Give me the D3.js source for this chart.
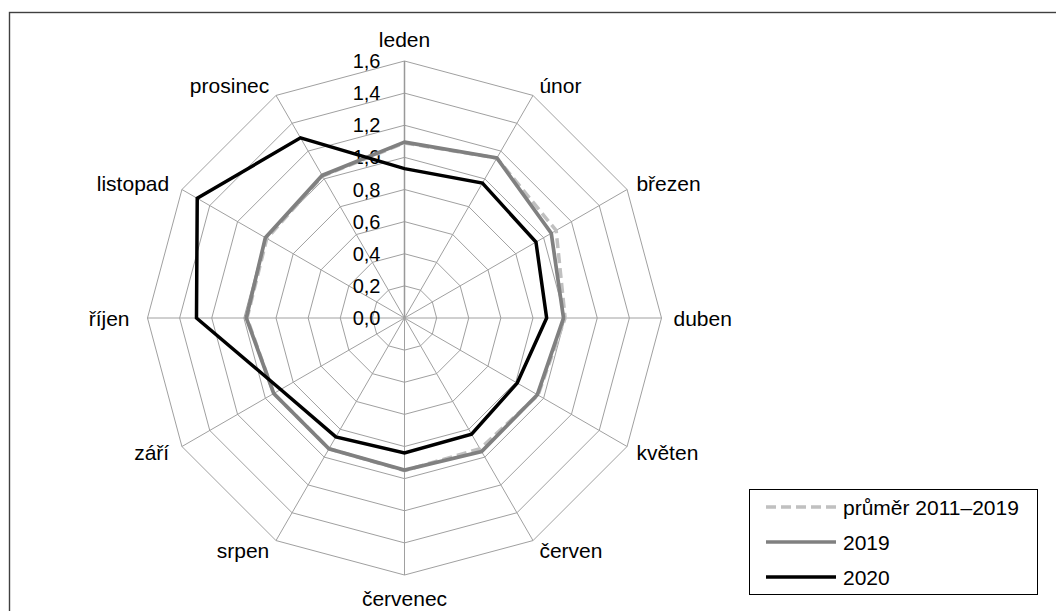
<!DOCTYPE html>
<html><head><meta charset="utf-8">
<script src="https://cdn.jsdelivr.net/npm/d3@7"></script>
<style>body{margin:0;background:#fff}svg{display:block;font-family:"Liberation Sans",Arial,sans-serif}</style>
</head><body>
<svg id="c" width="1056" height="611"></svg>
<script>
const months = ["leden","únor","březen","duben","květen","červen","červenec","srpen","září","říjen","listopad","prosinec"];
const avg2011_2019 = [1.09,1.15,1.09,1.00,0.96,0.94,0.95,0.94,0.94,0.98,0.99,1.02];
const y2019 = [1.095,1.15,1.055,0.99,0.955,0.96,0.947,0.94,0.94,0.985,1.0,1.025];
const y2020 = [0.93,0.97,0.945,0.885,0.81,0.835,0.84,0.855,0.89,1.295,1.49,1.295];
const tickValues = [0,0.2,0.4,0.6,0.8,1.0,1.2,1.4,1.6];
const seriesNames = ["průměr 2011–2019","2019","2020"];

const svg = d3.select("#c");
const cx = 404.5, cy = 318;
const r = d3.scaleLinear().domain([0,1.6]).range([0,257]);
const angle = i => i * 2*Math.PI/months.length;
const pt = (i,v) => [cx + r(v)*Math.sin(angle(i)), cy - r(v)*Math.cos(angle(i))];
const fmt = v => d3.format(".1f")(v).replace(".", ",");

// frame
svg.append("rect").attr("x",9.5).attr("y",12.5).attr("width",1100).attr("height",700)
  .attr("fill","none").attr("stroke","#404040").attr("stroke-width",1.4);

const grid = svg.append("g");
tickValues.slice(1).forEach(t => {
  grid.append("path")
    .attr("d", d3.line()(months.map((m,i)=>pt(i,t))) + "Z")
    .attr("fill","none").attr("stroke","#a0a0a0").attr("stroke-width",1);
});
months.forEach((m,i) => {
  const e = pt(i,1.6);
  grid.append("line").attr("x1",cx).attr("y1",cy).attr("x2",e[0]).attr("y2",e[1])
    .attr("stroke", i===0 ? "#999" : "#a0a0a0").attr("stroke-width", i===0 ? 1.5 : 1);
});

// tick labels
svg.append("g").selectAll("text").data(tickValues).join("text")
  .attr("x", cx - 24).attr("y", d => cy - r(d))
  .attr("text-anchor","end").attr("dominant-baseline","central")
  .attr("font-size",20).attr("fill","#000").text(fmt);

// month labels
months.forEach((m,i) => {
  const e = pt(i,1.6);
  const s = Math.sin(angle(i)), c = Math.cos(angle(i));
  const t = svg.append("text").attr("font-size",21).attr("fill","#000")
    .attr("dominant-baseline","central").text(m);
  if (Math.abs(s) < 0.01) {
    t.attr("text-anchor","middle").attr("x", e[0]).attr("y", e[1] + (c>0 ? -22 : 23));
  } else {
    const gap = s > 0 ? 6 + 6*Math.pow(s,4) : 6 + 12*Math.pow(s,4);
    t.attr("text-anchor", s>0 ? "start" : "end")
     .attr("x", e[0] + (s>0 ? gap : -gap)).attr("y", e[1] - c*11.5);
  }
});

// series
const styles = [
  {data: avg2011_2019, color:"#c0c0c0", dash:"10,5", w:3.5},
  {data: y2019, color:"#808080", dash:null, w:3.7},
  {data: y2020, color:"#000000", dash:null, w:3.5}
];
const g = svg.append("g");
styles.forEach(st => {
  g.append("path").attr("d", d3.line()(st.data.map((v,i)=>pt(i,v))) + "Z")
    .attr("fill","none").attr("stroke",st.color).attr("stroke-width",st.w)
    .attr("stroke-linejoin","miter").attr("stroke-dasharray",st.dash);
});

// legend
const lg = svg.append("g");
lg.append("rect").attr("x",749.5).attr("y",489.5).attr("width",288).attr("height",105)
  .attr("fill","#fff").attr("stroke","#000").attr("stroke-width",1);
seriesNames.forEach((n,k) => {
  const y = 507 + k*35;
  lg.append("line").attr("x1",766).attr("x2",836).attr("y1",y).attr("y2",y)
    .attr("stroke",styles[k].color).attr("stroke-width",styles[k].w)
    .attr("stroke-dasharray",styles[k].dash);
  lg.append("text").attr("x",843).attr("y",y).attr("dominant-baseline","central")
    .attr("font-size",21).attr("fill","#000").text(n);
});
</script>
</body></html>
